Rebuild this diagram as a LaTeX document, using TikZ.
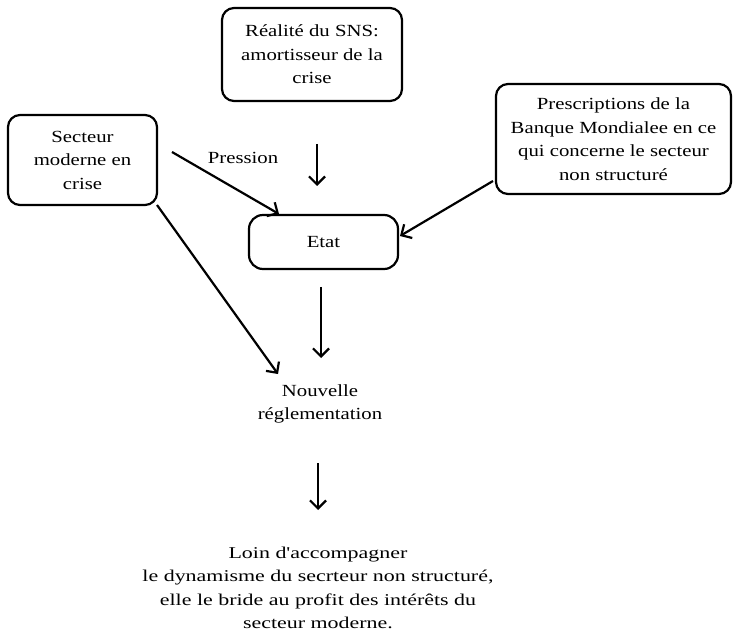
\documentclass[tikz,border=0pt]{standalone}
\usepackage{fontspec}
\setmainfont{Liberation Serif}[FakeStretch=1.22, Ligatures=TeXOff]
\newfontfamily\widefont{Liberation Serif}[FakeStretch=1.33, Ligatures=TeXOff]
\usetikzlibrary{arrows.meta}
\begin{document}
\begin{tikzpicture}[x=1pt,y=-1pt,
  box/.style={draw, line width=2.2pt, rounded corners=12pt, align=center, inner sep=0pt,
     font=\fontsize{17}{23.5}\selectfont},
  txt/.style={align=center, inner sep=0pt},
  arr/.style={line width=2.2pt, -{Straight Barb[length=8pt,width=16pt,line width=2.2pt]}}]
\useasboundingbox (0,0) rectangle (736,636);
\node[box, minimum width=180pt, minimum height=93pt] (real) at (312,54.5)
  {Réalité du SNS:\\amortisseur de la\\crise};
\node[box, minimum width=149pt, minimum height=90pt] (sect) at (82.5,160)
  {Secteur\\moderne en\\crise};
\node[box, minimum width=235pt, minimum height=110pt] (presc) at (613.5,139)
  {Prescriptions de la\\Banque Mondialee en ce\\qui concerne le secteur\\non structuré};
\node[box, minimum width=149pt, minimum height=54pt, rounded corners=14pt] (etat) at (323.5,242) {Etat};
\node[txt, font=\fontsize{17}{23}\selectfont] (nouv) at (320,404) {Nouvelle\\réglementation};
\node[txt, font=\widefont\fontsize{16.5}{23.5}\selectfont] (loin) at (318,588)
  {Loin d'accompagner\\le dynamisme du secrteur non structuré,\\elle le bride au profit des intérêts du\\secteur moderne.};
\node[txt, font=\fontsize{17}{20}\selectfont] (pres) at (243,158) {Pression};
\coordinate (a1s) at (317,144); \coordinate (a1e) at (317,186);
\coordinate (a2s) at (172,152); \coordinate (a2e) at (279,214);
\coordinate (a3s) at (493,181); \coordinate (a3e) at (400,236);
\coordinate (a4s) at (157,205); \coordinate (a4e) at (278,374);
\coordinate (a5s) at (321,287); \coordinate (a5e) at (321,358);
\coordinate (a6s) at (318,463); \coordinate (a6e) at (318,510);
\draw[arr] (a1s) -- (a1e);
\draw[arr] (a2s) -- (a2e);
\draw[arr] (a3s) -- (a3e);
\draw[arr] (a4s) -- (a4e);
\draw[arr] (a5s) -- (a5e);
\draw[arr] (a6s) -- (a6e);
\end{tikzpicture}
\end{document}
